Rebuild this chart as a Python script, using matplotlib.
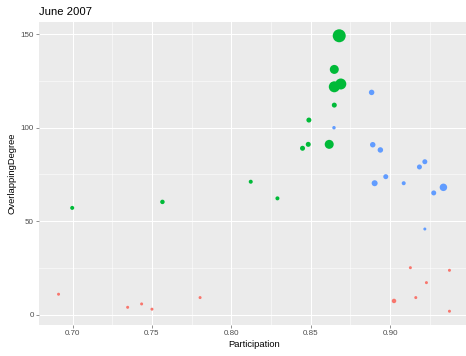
import numpy as np
import matplotlib
matplotlib.use("Agg")
import matplotlib.pyplot as plt
from matplotlib.ticker import MultipleLocator

plt.rcParams["font.family"] = ["Liberation Sans", "DejaVu Sans"]

# group 1 (red)
red_part = [0.6912, 0.7347, 0.7435, 0.7500, 0.7803, 0.9127, 0.9373, 0.9228, 0.9161, 0.9024, 0.9373]
red_deg = [10.9, 3.9, 5.7, 2.9, 9.1, 25.1, 23.7, 17.1, 9.1, 7.3, 1.8]
red_act = [9, 9, 9, 9, 9, 9, 9, 9, 9, 20, 9]

# group 2 (green)
green_part = [0.6998, 0.7566, 0.8122, 0.8290, 0.8679, 0.8648, 0.8689, 0.8648,
              0.8648, 0.8488, 0.8484, 0.8448, 0.8616]
green_deg = [57.1, 60.3, 71.1, 62.2, 149.2, 131.2, 123.4, 121.9,
             112.1, 104.1, 91.1, 89.0, 91.1]
green_act = [16, 20, 16, 16, 169, 81, 121, 121, 25, 25, 25, 25, 81]

# group 3 (blue)
blue_part = [0.8883, 0.8646, 0.8890, 0.8938, 0.9218, 0.9184, 0.8972, 0.8902,
             0.9085, 0.9274, 0.9335, 0.9218]
blue_deg = [118.9, 100.0, 90.9, 88.1, 81.8, 79.0, 73.8, 70.3, 70.3, 65.1, 68.1, 45.8]
blue_act = [30, 12, 30, 30, 25, 25, 25, 36, 16, 25, 56, 9]

groups = [
    (red_part, red_deg, red_act, "#F8766D"),
    (green_part, green_deg, green_act, "#00BA38"),
    (blue_part, blue_deg, blue_act, "#619CFF"),
]

W, H = 466, 356
fig = plt.figure(figsize=(W / 72, H / 72), dpi=72)
ax = fig.add_axes([39 / W, (H - 325) / H, (469 - 39) / W, (325 - 22) / H])
ax.set_facecolor("#EBEBEB")

for part, deg, act, col in groups:
    ax.scatter(part, deg, s=act, color=col, linewidths=0, zorder=3)

allx = red_part + green_part + blue_part
ally = red_deg + green_deg + blue_deg
dx = (max(allx) - min(allx)) * 0.05
dy = (max(ally) - min(ally)) * 0.05
ax.set_xlim(min(allx) - dx, max(allx) + dx)
ax.set_ylim(min(ally) - dy, max(ally) + dy)

ax.xaxis.set_major_locator(MultipleLocator(0.05))
ax.xaxis.set_minor_locator(MultipleLocator(0.025))
ax.yaxis.set_major_locator(MultipleLocator(50))
ax.yaxis.set_minor_locator(MultipleLocator(25))
ax.xaxis.set_major_formatter(plt.FuncFormatter(lambda v, p: f"{v:.2f}"))
ax.yaxis.set_major_formatter(plt.FuncFormatter(lambda v, p: f"{v:.0f}"))

ax.grid(which="major", color="white", linewidth=1.07)
ax.grid(which="minor", color="white", linewidth=0.53)
ax.set_axisbelow(True)
for s in ax.spines.values():
    s.set_visible(False)

ax.tick_params(which="major", length=2.75, width=0.53, color="#333333",
               labelsize=8, labelcolor="#4D4D4D", pad=2.5)
ax.tick_params(which="minor", length=0)

ax.set_xlabel("Participation", fontsize=9.4, color="black", labelpad=3)
ax.set_ylabel("OverlappingDegree", fontsize=9.4, color="black", labelpad=4)
fig.text(39 / W, 1 - 12 / H, "June 2007", fontsize=11.2, color="black",
         ha="left", va="center")

fig.savefig("out.png", dpi=72)
